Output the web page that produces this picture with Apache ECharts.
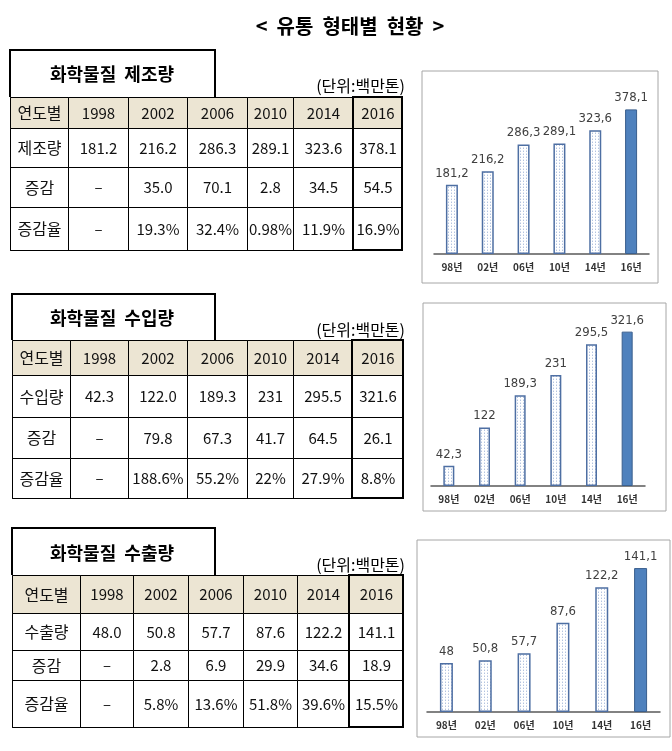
<!DOCTYPE html>
<html><head><meta charset="utf-8">
<script src="https://cdn.jsdelivr.net/npm/echarts@6/dist/echarts.min.js"></script>
<style>html,body{margin:0;padding:0;background:#fff}#c{width:672px;height:751px}</style>
</head><body><div id="c"></div>
<script>
// ---------- data ----------
const pageTitle = '<  유통  형태별  현황  >';
const unitText = '(단위:백만톤)';
const rowHeader = '연도별';
const years = ['1998', '2002', '2006', '2010', '2014', '2016'];
const yearLabels = ['98년', '02년', '06년', '10년', '14년', '16년'];

const prodTitle = '화학물질  제조량';
const prodRowNames = ['제조량', '증감', '증감율'];
const prodAmount = ['181.2', '216.2', '286.3', '289.1', '323.6', '378.1'];
const prodChange = ['–', '35.0', '70.1', '2.8', '34.5', '54.5'];
const prodRate = ['–', '19.3%', '32.4%', '0.98%', '11.9%', '16.9%'];

const impTitle = '화학물질  수입량';
const impRowNames = ['수입량', '증감', '증감율'];
const impAmount = ['42.3', '122.0', '189.3', '231', '295.5', '321.6'];
const impChange = ['–', '79.8', '67.3', '41.7', '64.5', '26.1'];
const impRate = ['–', '188.6%', '55.2%', '22%', '27.9%', '8.8%'];

const expTitle = '화학물질  수출량';
const expRowNames = ['수출량', '증감', '증감율'];
const expAmount = ['48.0', '50.8', '57.7', '87.6', '122.2', '141.1'];
const expChange = ['–', '2.8', '6.9', '29.9', '34.6', '18.9'];
const expRate = ['–', '5.8%', '13.6%', '51.8%', '39.6%', '15.5%'];

// ---------- layout / style ----------
const FONT = '"Noto Sans CJK KR", "Noto Sans", sans-serif';
const NARROW = '"Liberation Sans Narrow", "DejaVu Sans Condensed", "Noto Sans CJK KR", sans-serif';
const HEADER_BG = '#ece5d3';
const tablesLayout = [
  { left: 10, top: 97, colW: [58, 60, 59, 60, 46, 60, 49], rowH: [31, 39, 40, 43], boxTop: 50, titleY: 74, unitY: 86 },
  { left: 12, top: 340, colW: [58, 58, 59, 60, 46, 59, 51], rowH: [35, 42, 41, 40], boxTop: 294, titleY: 318, unitY: 330 },
  { left: 12, top: 575, colW: [68, 53, 55, 55, 54, 52, 54], rowH: [38, 37, 30, 47], boxTop: 528, titleY: 553, unitY: 565 }
];
const chartsLayout = [
  { grid: { left: 434, top: 101, width: 215, height: 153 }, max: 400, barWidth: 12, panel: [422, 71, 236, 212] },
  { grid: { left: 431, top: 318, width: 214, height: 168 }, max: 350, barWidth: 11, panel: [423, 303, 243, 208] },
  { grid: { left: 427, top: 559, width: 233, height: 153 }, max: 150, barWidth: 13, panel: [417, 540, 253, 197] }
];

const tables = [
  { title: prodTitle, rowNames: prodRowNames, rows: [prodAmount, prodChange, prodRate] },
  { title: impTitle, rowNames: impRowNames, rows: [impAmount, impChange, impRate] },
  { title: expTitle, rowNames: expRowNames, rows: [expAmount, expChange, expRate] }
];

// dotted pattern for bars
const pc = document.createElement('canvas');
pc.width = 3; pc.height = 3;
const pctx = pc.getContext('2d');
pctx.fillStyle = '#ffffff'; pctx.fillRect(0, 0, 3, 3);
pctx.fillStyle = '#b3c3df'; pctx.fillRect(1, 1, 1, 1);
pctx.fillStyle = '#dde5f2'; pctx.fillRect(1, 0, 1, 1);
const dotPattern = { image: pc, repeat: 'repeat' };

const sum = a => a.reduce((s, v) => s + v, 0);

const matrices = [];
const graphics = [];
graphics.push({ type: 'text', style: { text: pageTitle, x: 350, y: 26, align: 'center', verticalAlign: 'middle', fontSize: 20, fontWeight: 'bold', fontFamily: FONT, fill: '#000' } });

const koLabel = { fontSize: 16 };
tables.forEach((t, ti) => {
  const L = tablesLayout[ti];
  const W = sum(L.colW), H = sum(L.rowH);
  const cells = [];
  [rowHeader].concat(years).forEach((txt, ci) => cells.push({ coord: ['c' + ci, 'r0'], value: txt, itemStyle: { color: HEADER_BG }, label: ci === 0 ? koLabel : undefined }));
  t.rows.forEach((r, ri) => {
    cells.push({ coord: ['c0', 'r' + (ri + 1)], value: t.rowNames[ri], label: koLabel });
    r.forEach((txt, ci) => cells.push({ coord: ['c' + (ci + 1), 'r' + (ri + 1)], value: txt }));
  });
  matrices.push({
    left: L.left, top: L.top, width: W, height: H,
    x: { show: false, data: L.colW.map((w, i) => ({ value: 'c' + i, size: w })) },
    y: { show: false, data: L.rowH.map((h, i) => ({ value: 'r' + i, size: h })) },
    body: {
      itemStyle: { color: '#fff', borderColor: '#000', borderWidth: 1 },
      label: { color: '#111', fontSize: 15, fontFamily: FONT, overflow: 'none' },
      data: cells
    },
    backgroundStyle: { color: '#fff', borderColor: '#000', borderWidth: 1 }
  });
  graphics.push({ type: 'polyline', shape: { points: [[L.left, L.top], [L.left, L.boxTop], [215, L.boxTop], [215, L.top]] }, style: { stroke: '#000', lineWidth: 2, fill: null }, z: 10 });
  graphics.push({ type: 'text', style: { text: t.title, x: 112, y: L.titleY, align: 'center', verticalAlign: 'middle', fontSize: 18, fontWeight: 'bold', fontFamily: FONT, fill: '#000' }, z: 10 });
  graphics.push({ type: 'text', style: { text: unitText, x: 405, y: L.unitY, align: 'right', verticalAlign: 'middle', fontSize: 16, fontFamily: FONT, fill: '#000' }, z: 10 });
  const lastW = L.colW[L.colW.length - 1];
  graphics.push({ type: 'rect', shape: { x: L.left + W - lastW, y: L.top, width: lastW, height: H }, style: { stroke: '#000', lineWidth: 2, fill: null }, z: 10 });
});

const grids = [], xAxes = [], yAxes = [], series = [];
tables.forEach((t, i) => {
  const C = chartsLayout[i];
  graphics.push({ type: 'rect', shape: { x: C.panel[0], y: C.panel[1], width: C.panel[2], height: C.panel[3] }, style: { stroke: '#a6a6a6', lineWidth: 1, fill: null }, z: 1 });
  grids.push(C.grid);
  xAxes.push({
    type: 'category', gridIndex: i, data: yearLabels,
    axisLine: { lineStyle: { color: '#595959', width: 1.5 } }, axisTick: { show: false },
    axisLabel: { color: '#333', fontSize: 10, fontWeight: 'bold', fontFamily: FONT, margin: 8 }
  });
  yAxes.push({ type: 'value', gridIndex: i, min: 0, max: C.max, show: false, splitLine: { show: false } });
  const vals = t.rows[0].map(s => parseFloat(s));
  series.push({
    type: 'bar', xAxisIndex: i, yAxisIndex: i, barWidth: C.barWidth,
    data: vals.map((v, k) => k === vals.length - 1
      ? { value: v, itemStyle: { color: '#4f81bd', borderColor: '#3a5f8e', borderWidth: 1 } }
      : { value: v, itemStyle: { color: dotPattern, borderColor: '#4e6fa3', borderWidth: 1.5 } }),
    label: {
      show: true, position: 'top', distance: 5, color: '#404040', fontSize: 13, fontFamily: NARROW,
      formatter: p => String(p.value).replace('.', ',')
    }
  });
});

const chart = echarts.init(document.getElementById('c'), null, { renderer: 'canvas' });
chart.setOption({
  backgroundColor: '#fff',
  animation: false,
  matrix: matrices,
  grid: grids,
  xAxis: xAxes,
  yAxis: yAxes,
  series: series,
  graphic: graphics
});
</script>
</body></html>
